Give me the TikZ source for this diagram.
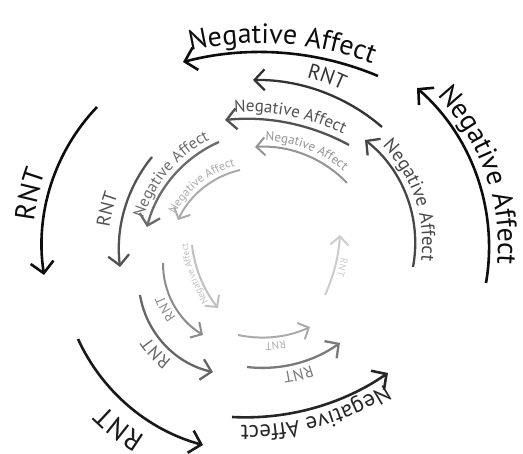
\documentclass[tikz,border=0pt]{standalone}
\usepackage{fontspec}
\setmainfont{PT Sans}
\usetikzlibrary{arrows.meta,decorations.text}

\tikzset{
  outerring/.style={line width=2.6pt, -{Straight Barb[length=11pt,width=23pt]}},
  midring/.style={line width=2.3pt, -{Straight Barb[length=10pt,width=21pt]}},
  innerring/.style={line width=2pt, -{Straight Barb[length=8.5pt,width=18pt]}},
}

\makeatletter
% pixel grid (y pointing down) -> picture units of 100pt
\def\SP@xy#1,#2\@nil#3#4{\pgfmathsetmacro#3{(#1)/100}\pgfmathsetmacro#4{(454-(#2))/100}}
% #1 colour, #2 arc style, #3 font size, #4 gap arc--baseline,
% #5 start, #6 point on arc, #7 tip, #8 label, #9 angular shift of label
\newcommand\spiralarc[9]{%
  \SP@xy#5\@nil\SPax\SPay
  \SP@xy#6\@nil\SPbx\SPby
  \SP@xy#7\@nil\SPcx\SPcy
  \pgfmathsetmacro\SPd{2*(\SPax*(\SPby-\SPcy)+\SPbx*(\SPcy-\SPay)+\SPcx*(\SPay-\SPby))}%
  \pgfmathsetmacro\SPsa{\SPax*\SPax+\SPay*\SPay}%
  \pgfmathsetmacro\SPsb{\SPbx*\SPbx+\SPby*\SPby}%
  \pgfmathsetmacro\SPsc{\SPcx*\SPcx+\SPcy*\SPcy}%
  \pgfmathsetmacro\SPux{(\SPsa*(\SPby-\SPcy)+\SPsb*(\SPcy-\SPay)+\SPsc*(\SPay-\SPby))/\SPd}%
  \pgfmathsetmacro\SPuy{(\SPsa*(\SPcx-\SPbx)+\SPsb*(\SPax-\SPcx)+\SPsc*(\SPbx-\SPax))/\SPd}%
  \pgfmathsetmacro\SPr{100*veclen(\SPax-\SPux,\SPay-\SPuy)}%
  \pgfmathsetmacro\SPaa{atan2(\SPay-\SPuy,\SPax-\SPux)}%
  \pgfmathsetmacro\SPab{atan2(\SPcy-\SPuy,\SPcx-\SPux)}%
  \pgfmathsetmacro\SPab{\SPab<\SPaa ? \SPab+360 : \SPab}%
  \draw[#2, draw=#1] (\SPax,\SPay) arc[start angle=\SPaa, end angle=\SPab, radius=\SPr pt];
  \pgfmathsetmacro\SPrt{\SPr+#4}%
  \pgfmathsetmacro\SPt{\SPab+40+#9}%
  \pgfmathsetmacro\SPte{\SPaa-40+#9}%
  \pgfmathsetmacro\SPsx{\SPux+\SPrt/100*cos(\SPt)}%
  \pgfmathsetmacro\SPsy{\SPuy+\SPrt/100*sin(\SPt)}%
  \path[decorate, decoration={text along path, text align=center,
      text={|\fontsize{#3}{#3}\selectfont\color{#1}|#8}}]
    (\SPsx,\SPsy) arc[start angle=\SPt, end angle=\SPte, radius=\SPrt pt];
}
\makeatother

\begin{document}
\begin{tikzpicture}[x=100pt, y=100pt]
  \useasboundingbox (0,0) rectangle (5.23,4.54);

  % outer turn
  \spiralarc{black!95}{outerring}{28}{9}{486,283}{467,153}{417,88}{Negative Affect}{0}
  \spiralarc{black!95}{outerring}{28}{9}{378,76}{283,53}{183,62}{Negative Affect}{0}
  \spiralarc{black!95}{outerring}{28}{9}{97,107}{50,188}{44,275}{RNT}{4}
  \spiralarc{black!90}{outerring}{28}{15}{78,339}{105,382}{203,445}{RNT}{2}
  \spiralarc{black!85}{outerring}{23}{8}{232,417}{332,402}{388,373}{Negative Affect}{0}

  % middle turn
  \spiralarc{black!72}{midring}{19}{7}{413,267}{404,190}{365,140}{Negative Affect}{-2}
  \spiralarc{black!80}{midring}{21}{9}{382,127}{317,90}{253,80}{RNT}{0}
  \spiralarc{black!68}{midring}{17}{7}{349,145}{283,122}{225,120}{Negative Affect}{0}
  \spiralarc{black!68}{midring}{19}{11}{152,157}{133,187}{120,267}{RNT}{2}
  \spiralarc{black!60}{midring}{18}{7}{140,295}{167,347}{213,372}{RNT}{0}
  \spiralarc{black!52}{midring}{16}{6}{247,367}{290,365}{340,343}{RNT}{0}
  \spiralarc{black!58}{midring}{16}{6}{219,142}{163,190}{147,227}{Negative Affect}{0}

  % inner turn
  \spiralarc{black!42}{innerring}{13}{6}{347,183}{300,153}{255,147}{Negative Affect}{0}
  \spiralarc{black!33}{innerring}{12}{5}{240,170}{210,183}{178,220}{Negative Affect}{0}
  \spiralarc{black!45}{innerring}{14}{5}{163,263}{177,310}{203,335}{RNT}{0}
  \spiralarc{black!25}{innerring}{9.5}{4}{192,245}{200,277}{218,308}{Negative Affect}{-3}
  \spiralarc{black!33}{innerring}{11}{5}{238,335}{273,337}{310,327}{RNT}{0}
  \spiralarc{black!20}{innerring}{10}{4}{325,295}{335,267}{340,235}{RNT}{0}
\end{tikzpicture}
\end{document}
